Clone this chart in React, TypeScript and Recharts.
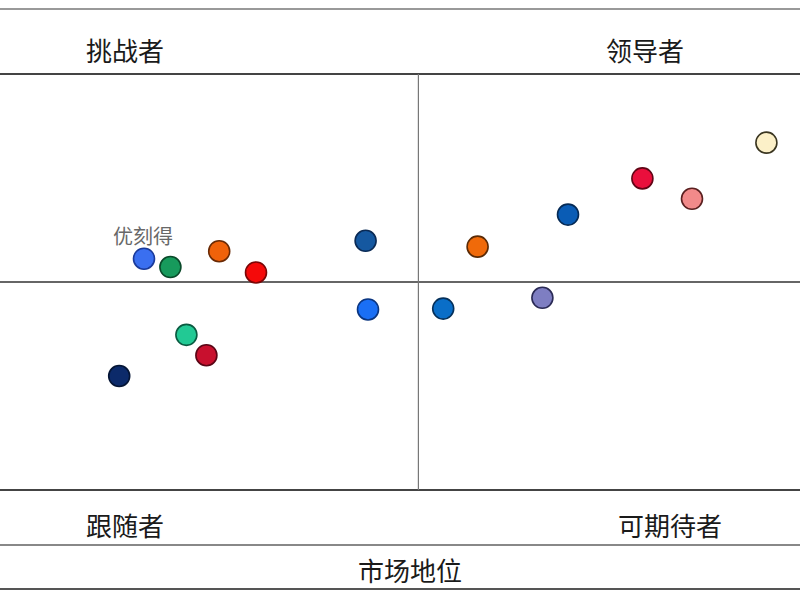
import React from "react";
import { ScatterChart, Scatter, XAxis, YAxis, ReferenceLine } from "recharts";

const companies = ["优刻得", "c2", "c3", "c4", "c5", "c6", "c7", "c8", "c9", "c10", "c11", "c12", "c13", "c14", "c15", "c16"];
const shownLabels = ["优刻得", "", "", "", "", "", "", "", "", "", "", "", "", "", "", ""];
const marketX = [18.0, 21.3, 27.4, 32.0, 45.7, 46.0, 23.3, 25.8, 14.9, 95.8, 80.3, 86.5, 71.0, 59.7, 55.4, 67.8];
const strengthY = [55.6, 53.6, 57.4, 52.3, 59.9, 43.4, 37.3, 32.4, 27.4, 83.5, 74.9, 70.0, 66.2, 58.5, 43.6, 46.2];
const fills = ["#3a6ff0", "#179a5c", "#f0620a", "#f50a0a", "#1558a0", "#1a6ff5", "#22c994", "#c8102e", "#0c2a6a", "#fcf0c8", "#ea0f3c", "#f28a8a", "#0a5cb5", "#f06a0a", "#0a6ec8", "#7e7ec2"];
const strokes = ["#1a3a9a", "#0a4a2a", "#6a2a05", "#7a0505", "#0a2a55", "#0a3580", "#0a5a40", "#5a0515", "#051535", "#3a3520", "#600515", "#5a2020", "#052a55", "#5a2a05", "#05305a", "#2a2a55"];
const quadrantLabels = ["挑战者", "领导者", "跟随者", "可期待者"];
const axisTitle = "市场地位";
const midX = 52.3;
const midY = 50;

const data = companies.map((name, i) => ({
  name,
  label: shownLabels[i],
  x: marketX[i],
  y: strengthY[i],
  fill: fills[i],
  stroke: strokes[i],
}));

const Dot = (props: any) => {
  const { cx, cy, payload } = props;
  return (
    <g>
      <circle cx={cx} cy={cy} r={10.5} fill={payload.fill} stroke={payload.stroke} strokeWidth={1.6} />
      {payload.label ? (
        <text x={cx - 1} y={cy - 14.5} textAnchor="middle" fontSize={20} fill="#686868" fontFamily="'Noto Sans CJK SC', sans-serif">
          {payload.label}
        </text>
      ) : null}
    </g>
  );
};

const font = "'Noto Sans CJK SC', 'Noto Sans', sans-serif";

const hLine = (top: number, color: string, h: number) => (
  <div style={{ position: "absolute", left: 0, top: top - h / 2, width: 800, height: h, background: color }} />
);

const textStyle = (cx: number, cy: number): React.CSSProperties => ({
  position: "absolute",
  left: cx - 100,
  top: cy - 18,
  width: 200,
  height: 36,
  lineHeight: "36px",
  textAlign: "center",
  fontSize: 26,
  color: "#1a1a1a",
  fontFamily: font,
});

export default function App() {
  return (
    <div style={{ position: "absolute", left: 0, top: 0, width: 800, height: 600, background: "#fff", overflow: "hidden" }}>
      <ScatterChart width={800} height={600} margin={{ top: 74, right: 0, bottom: 110, left: 0 }}>
        <XAxis type="number" dataKey="x" domain={[0, 100]} hide />
        <YAxis type="number" dataKey="y" domain={[0, 100]} hide />
        <ReferenceLine y={100} stroke="#444" strokeWidth={2} />
        <ReferenceLine y={0} stroke="#444" strokeWidth={2} />
        <ReferenceLine y={midY} stroke="#333" strokeWidth={1.6} />
        <ReferenceLine x={midX} stroke="#777" strokeWidth={1.2} />
        <Scatter data={data} shape={<Dot />} isAnimationActive={false} />
      </ScatterChart>
      {hLine(9, "#999", 2)}
      {hLine(545, "#888", 2)}
      {hLine(589, "#555", 2)}
      <div style={textStyle(125, 50)}>{quadrantLabels[0]}</div>
      <div style={textStyle(645, 50)}>{quadrantLabels[1]}</div>
      <div style={textStyle(125, 525)}>{quadrantLabels[2]}</div>
      <div style={textStyle(670, 525)}>{quadrantLabels[3]}</div>
      <div style={textStyle(410, 570)}>{axisTitle}</div>
    </div>
  );
}
